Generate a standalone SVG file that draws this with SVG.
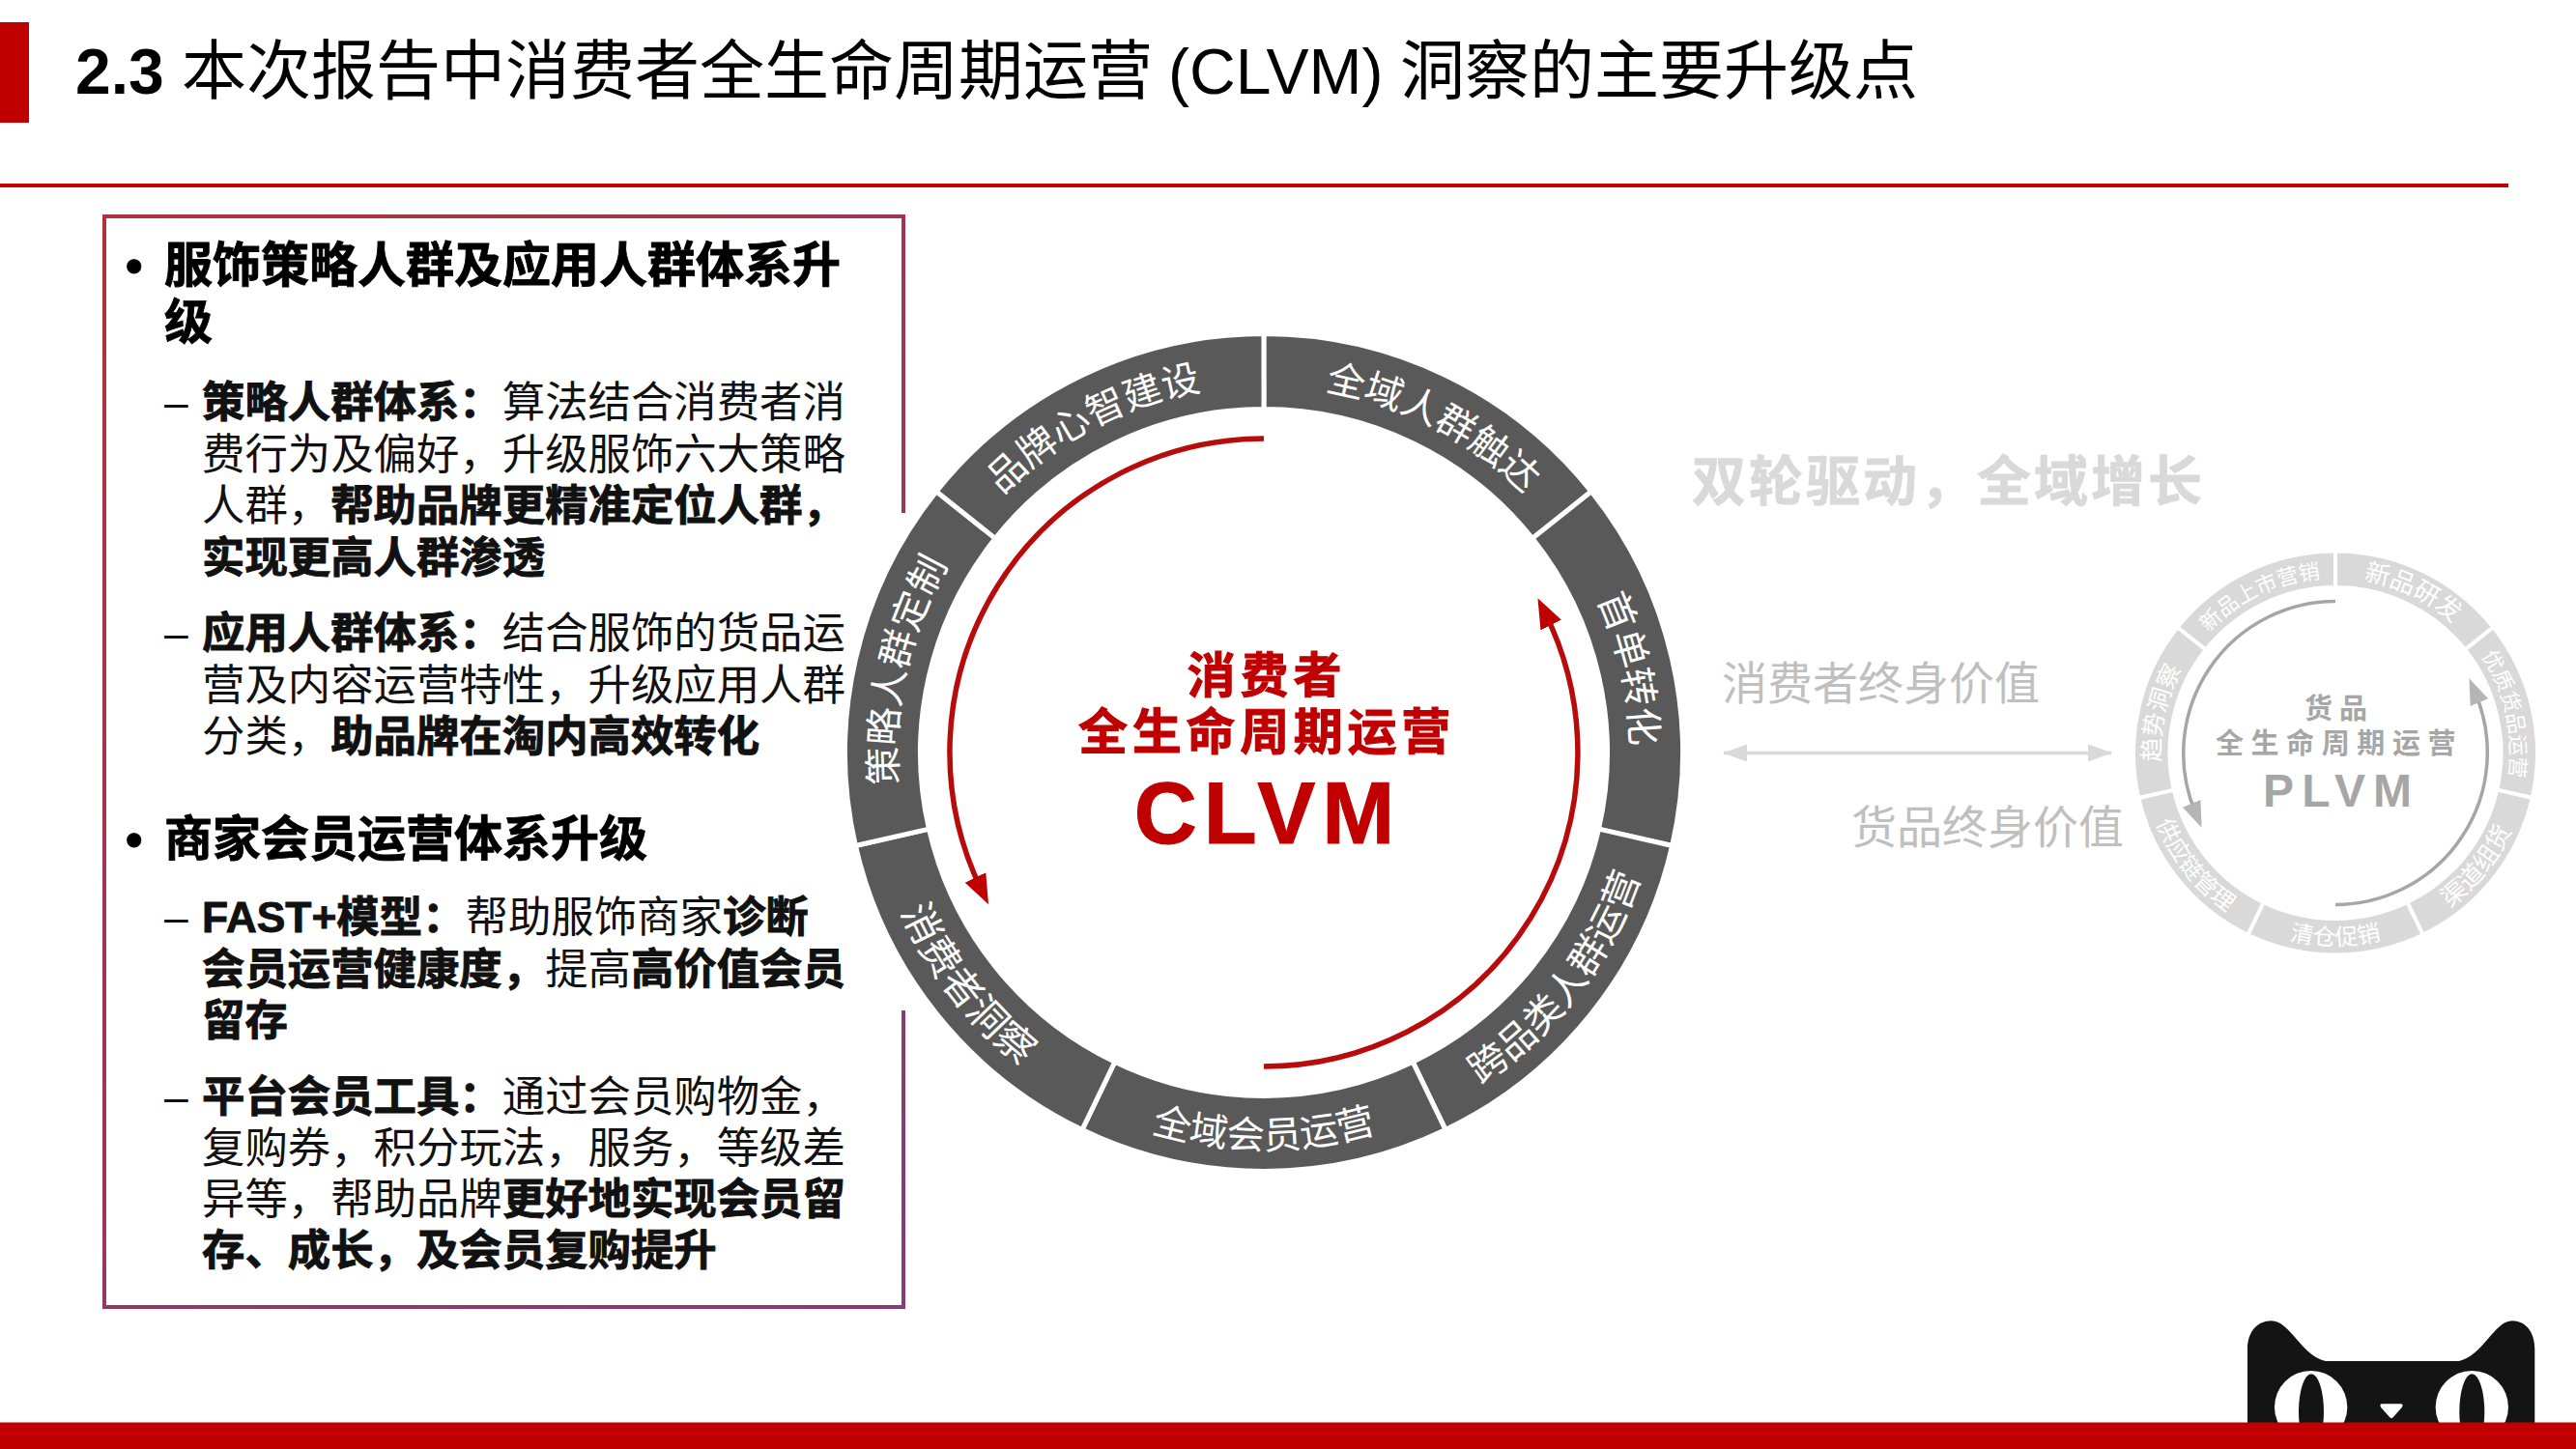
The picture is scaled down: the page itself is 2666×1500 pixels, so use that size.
<svg xmlns="http://www.w3.org/2000/svg" xmlns:xlink="http://www.w3.org/1999/xlink" width="2666" height="1500" viewBox="0 0 2666 1500">
<style>
text{font-family:"Liberation Sans","Noto Sans CJK SC",sans-serif}
.h{font-size:50px;font-weight:700;fill:#000;stroke:#000;stroke-width:.9}
.s{font-size:44.4px;fill:#111}
.b{font-weight:700;stroke:#111;stroke-width:.9}
.lb{font-size:39.5px;fill:#fff;text-anchor:middle}
.sb{fill:#fff;text-anchor:middle}
.seg{fill:#595959;stroke:#fff;stroke-width:5}
.sseg{fill:#d9d9d9;stroke:#fff;stroke-width:4}
.red{fill:#c00000;stroke:#c00000;stroke-width:1;font-weight:700;text-anchor:middle}
.gry{fill:#a6a6a6;font-weight:700;text-anchor:middle}
.lt{fill:#bfbfbf;font-size:47px}
</style>
<defs>
<linearGradient id="bx" gradientUnits="userSpaceOnUse" x1="108" y1="224" x2="935" y2="1353"><stop offset="0" stop-color="#b0323a"/><stop offset="1" stop-color="#863c78"/></linearGradient>
<path id="bigseg" d="M0 -433.5A433.5 433.5 0 0 1 338.9 -270.3L277.9 -221.6A355.5 355.5 0 0 0 0 -355.5Z"/>
<path id="smseg" d="M0 -209A209 209 0 0 1 163.4 -130.3L134.1 -106.9A171.5 171.5 0 0 0 0 -171.5Z"/>
<path id="bcw" d="M-374.2 -66A380 380 0 0 1 374.2 -66"/>
<path id="bccw" d="M-403.8 71.2A410 410 0 0 0 403.8 71.2"/>
<path id="scw" d="M-178.3 -31.4A181 181 0 0 1 178.3 -31.4"/>
<path id="sccw" d="M-196 34.6A199 199 0 0 0 196 34.6"/>
<marker id="ar" markerUnits="userSpaceOnUse" markerWidth="32" markerHeight="26" refX="14" refY="13" orient="auto"><path d="M0 1L31 13L0 25Z" fill="#c00000"/></marker>
<marker id="ag" markerUnits="userSpaceOnUse" markerWidth="28" markerHeight="22" refX="10" refY="11" orient="auto"><path d="M0 1L27 11L0 21Z" fill="#b5b5b5"/></marker>
<marker id="al" markerUnits="userSpaceOnUse" markerWidth="26" markerHeight="20" refX="24" refY="10" orient="auto-start-reverse"><path d="M0 1L25 10L0 19Z" fill="#d9d9d9"/></marker>
</defs>
<rect width="2666" height="1500" fill="#fff"/>
<g id="header">
<rect x="0" y="23" width="30" height="104" fill="#c00000"/>
<text y="97" font-size="67" fill="#000"><tspan x="78" font-size="66" font-weight="700">2.3</tspan><tspan x="188">本次报告中消费者全生命周期运营</tspan><tspan x="1209" font-size="66">(CLVM)</tspan><tspan x="1449">洞察的主要升级点</tspan></text>
<rect x="0" y="190" width="2596" height="4" fill="#c00000"/>
</g>
<g id="insight-panel">
<path d="M935 531V224H108V1353H935V1046" fill="none" stroke="url(#bx)" stroke-width="4"/>
<text x="130" y="292" class="h">•</text>
<text x="170" y="292" class="h">服饰策略人群及应用人群体系升</text>
<text x="170" y="351" class="h">级</text>
<text x="170" y="432" class="s">–</text>
<text x="209" y="432" class="s"><tspan class="b">策略人群体系：</tspan>算法结合消费者消</text>
<text x="209" y="485.5" class="s">费行为及偏好，升级服饰六大策略</text>
<text x="209" y="539" class="s">人群，<tspan class="b">帮助品牌更精准定位人群，</tspan></text>
<text x="209" y="592.5" class="s b">实现更高人群渗透</text>
<text x="170" y="671" class="s">–</text>
<text x="209" y="671" class="s"><tspan class="b">应用人群体系：</tspan>结合服饰的货品运</text>
<text x="209" y="725" class="s">营及内容运营特性，升级应用人群</text>
<text x="209" y="778" class="s">分类，<tspan class="b">助品牌在淘内高效转化</tspan></text>
<text x="130" y="886" class="h">•</text>
<text x="170" y="886" class="h">商家会员运营体系升级</text>
<text x="170" y="965" class="s">–</text>
<text x="209" y="965" class="s"><tspan class="b">FAST+模型：</tspan>帮助服饰商家<tspan class="b">诊断</tspan></text>
<text x="209" y="1018.5" class="s"><tspan class="b">会员运营健康度，</tspan>提高<tspan class="b">高价值会员</tspan></text>
<text x="209" y="1072" class="s b">留存</text>
<text x="170" y="1150.5" class="s">–</text>
<text x="209" y="1150.5" class="s"><tspan class="b">平台会员工具：</tspan>通过会员购物金，</text>
<text x="209" y="1204" class="s">复购券，积分玩法，服务，等级差</text>
<text x="209" y="1257" class="s">异等，帮助品牌<tspan class="b">更好地实现会员留</tspan></text>
<text x="209" y="1310" class="s b">存、成长，及会员复购提升</text>
</g>
<g id="clvm-wheel" transform="translate(1308 779)">
<g id="c1"><use href="#bigseg" class="seg"/><text class="lb" transform="rotate(27.4)"><textPath href="#bcw" startOffset="50%">全域人群触达</textPath></text></g>
<g id="c2"><use href="#bigseg" class="seg" transform="rotate(51.43)"/><text class="lb" transform="rotate(77.1)"><textPath href="#bcw" startOffset="50%">首单转化</textPath></text></g>
<g id="c3"><use href="#bigseg" class="seg" transform="rotate(102.86)"/><text class="lb" transform="rotate(-52.4)"><textPath href="#bccw" startOffset="50%">跨品类人群运营</textPath></text></g>
<g id="c4"><use href="#bigseg" class="seg" transform="rotate(154.29)"/><text class="lb"><textPath href="#bccw" startOffset="50%">全域会员运营</textPath></text></g>
<g id="c5"><use href="#bigseg" class="seg" transform="rotate(205.71)"/><text class="lb" font-size="41" style="font-size:41px" transform="rotate(52)"><textPath href="#bccw" startOffset="50%">消费者洞察</textPath></text></g>
<g id="c6"><use href="#bigseg" class="seg" transform="rotate(257.14)"/><text class="lb" transform="rotate(-77.1)"><textPath href="#bcw" startOffset="50%">策略人群定制</textPath></text></g>
<g id="c7"><use href="#bigseg" class="seg" transform="rotate(308.57)"/><text class="lb" transform="rotate(-27.6)"><textPath href="#bcw" startOffset="50%">品牌心智建设</textPath></text></g>
</g>
<g id="clvm-center">
<text x="1311" y="717" class="red" font-size="50" letter-spacing="5">消费者</text>
<text x="1311" y="776" class="red" font-size="51" letter-spacing="4.7">全生命周期运营</text>
<text x="1312" y="873" class="red" font-size="90" letter-spacing="7">CLVM</text>
</g>
<g id="plvm-wheel" transform="translate(2417 779.5)">
<g id="p1"><use href="#smseg" class="sseg"/><text class="sb" font-size="26" transform="rotate(25.7)"><textPath href="#scw" startOffset="50%">新品研发</textPath></text></g>
<g id="p2"><use href="#smseg" class="sseg" transform="rotate(51.43)"/><text class="sb" font-size="22" transform="rotate(77.1)"><textPath href="#scw" startOffset="50%">优质货品运营</textPath></text></g>
<g id="p3"><use href="#smseg" class="sseg" transform="rotate(102.86)"/><text class="sb" font-size="26" transform="rotate(-51.4)"><textPath href="#sccw" startOffset="50%">渠道组货</textPath></text></g>
<g id="p4"><use href="#smseg" class="sseg" transform="rotate(154.29)"/><text class="sb" font-size="24"><textPath href="#sccw" startOffset="50%">清仓促销</textPath></text></g>
<g id="p5"><use href="#smseg" class="sseg" transform="rotate(205.71)"/><text class="sb" font-size="24" transform="rotate(51.4)"><textPath href="#sccw" startOffset="50%">供应链管理</textPath></text></g>
<g id="p6"><use href="#smseg" class="sseg" transform="rotate(257.14)"/><text class="sb" font-size="25" transform="rotate(-77.1)"><textPath href="#scw" startOffset="50%">趋势洞察</textPath></text></g>
<g id="p7"><use href="#smseg" class="sseg" transform="rotate(308.57)"/><text class="sb" font-size="22" transform="rotate(-25.7)"><textPath href="#scw" startOffset="50%">新品上市营销</textPath></text></g>
</g>
<g id="plvm-center">
<text x="2421" y="744" class="gry" font-size="29" letter-spacing="7">货品</text>
<text x="2421" y="780" class="gry" font-size="29" letter-spacing="7.6">全生命周期运营</text>
<text x="2423" y="835" class="gry" font-size="48" letter-spacing="8">PLVM</text>
</g>
<g id="value-labels">
<text x="1751" y="518" font-size="56" font-weight="700" fill="#d9d9d9" stroke="#d9d9d9" stroke-width=".8" letter-spacing="3">双轮驱动，全域增长</text>
<text x="1782" y="724" class="lt">消费者终身价值</text>
<text x="1916" y="873" class="lt">货品终身价值</text>
</g>
<g id="connectors" fill="none">
<path d="M1308 454A325 325 0 0 0 1015.6 921" stroke="#b80c0c" stroke-width="5.5" marker-end="url(#ar)"/>
<path d="M1308 1104A325 325 0 0 0 1599 634.5" stroke="#b80c0c" stroke-width="5.5" marker-end="url(#ar)"/>
<path d="M2417 622.5A157.5 157.5 0 0 0 2272 841" stroke="#a6a6a6" stroke-width="3.5" marker-end="url(#ag)"/>
<path d="M2417 936.5A157.5 157.5 0 0 0 2562 718" stroke="#a6a6a6" stroke-width="3.5" marker-end="url(#ag)"/>
<path d="M1784 779.5H2185" stroke="#d9d9d9" stroke-width="3.5" marker-start="url(#al)" marker-end="url(#al)"/>
</g>
<g id="logo" transform="translate(2280 1340) scale(0.3333)">
<path d="M138 400V170C138 115 170 82 212 82C270 82 305 190 380 207H795C870 190 905 82 960 82C1000 82 1030 115 1030 170V400Z" fill="#141414"/>
<ellipse cx="335" cy="350" rx="113" ry="113" fill="#fff"/>
<ellipse cx="835" cy="350" rx="113" ry="113" fill="#fff"/>
<ellipse cx="336" cy="365" rx="39" ry="118" fill="#141414"/>
<ellipse cx="835" cy="365" rx="39" ry="118" fill="#141414"/>
<path d="M556 340H614Q623 340 618 350L590 382Q585 387 580 382L552 350Q547 340 556 340Z" fill="#fff"/>
</g>
<rect id="footer" x="0" y="1472.5" width="2666" height="27.5" fill="#c00000"/>
</svg>
